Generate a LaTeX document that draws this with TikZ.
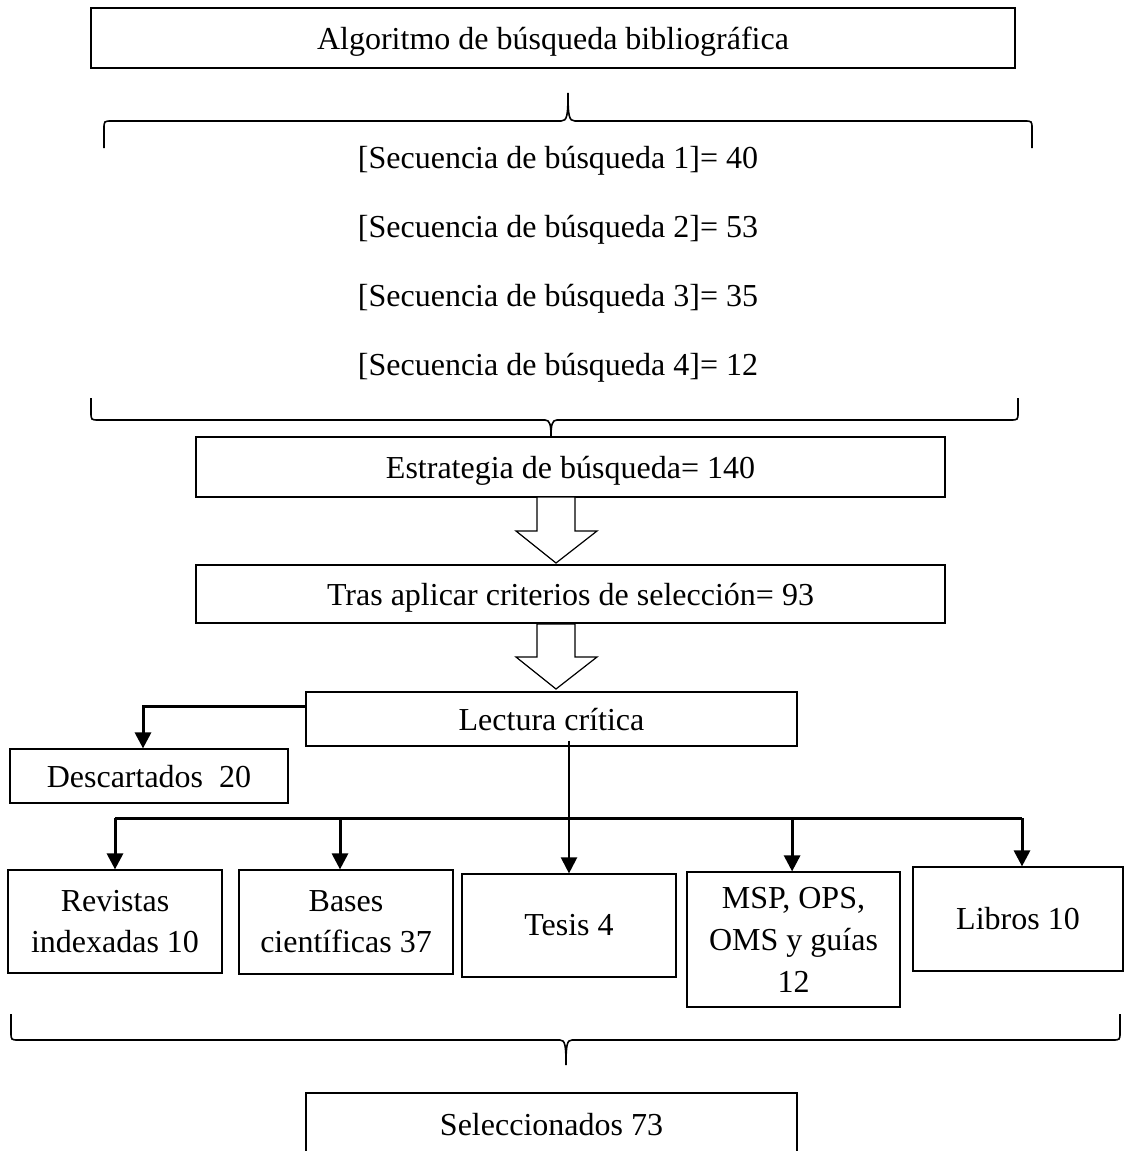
\documentclass[tikz,border=0pt]{standalone}
\usepackage{fontspec}
\setmainfont{Liberation Serif}
\usetikzlibrary{arrows.meta,calc}
\begin{document}
\begin{tikzpicture}[x=0.5pt,y=-0.5pt,
  box/.style={draw, line width=0.6pt, inner sep=0pt, align=center, font=\fontsize{16}{20.5}\selectfont},
  sl/.style={text height=13pt, text depth=2pt},
  txt/.style={inner sep=0pt, font=\fontsize{16}{20}\selectfont},
  arr/.style={line width=1.5pt, -{Triangle[width=8pt,length=8pt]}},
  thinarr/.style={line width=1.1pt, -{Triangle[width=8pt,length=8pt]}},
  brc/.style={line width=0.8pt},
  hollow/.style={draw, line width=0.6pt, fill=white}]
\useasboundingbox (0,0) rectangle (1124,1151);
% top box
\node[box, sl, minimum width=462pt, minimum height=30pt] (alg) at (553,38) {Algoritmo de búsqueda bibliográfica};
% top brace
\draw[brc] (104,148) -- (104,129) .. controls (104,121) .. (112,121) -- (561,121) .. controls (567,121) and (568,116) .. (568,93) .. controls (568,116) and (569,121) .. (575,121) -- (1024,121) .. controls (1032,121) .. (1032,129) -- (1032,148);
% sequences
\node[txt] (s1) at (558,161) {[Secuencia de búsqueda 1]= 40};
\node[txt] (s2) at (558,230) {[Secuencia de búsqueda 2]= 53};
\node[txt] (s3) at (558,299) {[Secuencia de búsqueda 3]= 35};
\node[txt] (s4) at (558,368) {[Secuencia de búsqueda 4]= 12};
% bottom brace
\draw[brc] (91,398) -- (91,412) .. controls (91,420) .. (99,420) -- (545,420) .. controls (550,420) and (551,425) .. (551,437) .. controls (551,425) and (552,420) .. (557,420) -- (1010,420) .. controls (1018,420) .. (1018,412) -- (1018,398);
% strategy
\node[box, sl, minimum width=374.5pt, minimum height=30pt] (est) at (570.5,467) {Estrategia de búsqueda= 140};
\draw[hollow] (537,497) -- (575,497) -- (575,531) -- (597,531) -- (556,563) -- (516,531) -- (537,531) -- cycle;
\node[box, sl, minimum width=374.5pt, minimum height=29pt] (tras) at (570.5,594) {Tras aplicar criterios de selección= 93};
\draw[hollow] (537,624) -- (575,624) -- (575,657) -- (597,657) -- (556,689) -- (516,657) -- (537,657) -- cycle;
% lectura
\node[box, sl, minimum width=245.5pt, minimum height=27pt] (lect) at (551.5,719) {Lectura crítica};
\node[box, sl, minimum width=139pt, minimum height=27pt] (desc) at (149,776) {Descartados\ \ 20};
\draw[arr] ([yshift=6.5pt]lect.west) -| ([xshift=-3pt]desc.north);
% categories
\node[box, minimum width=107pt, minimum height=51.5pt] (rev) at (115,921.5) {Revistas\\indexadas 10};
\node[box, minimum width=107pt, minimum height=52pt] (bas) at (346,922) {Bases\\científicas 37};
\node[box, minimum width=107pt, minimum height=51.5pt] (tes) at (569,925.5) {Tesis 4};
\node[box, minimum width=106.5pt, minimum height=67.5pt, font=\fontsize{16}{21}\selectfont] (msp) at (793.5,939.5) {MSP, OPS,\\OMS y guías\\12};
\node[box, minimum width=105pt, minimum height=52pt] (lib) at (1018,919) {Libros 10};
% bus
\coordinate (bl) at (115,818);
\coordinate (br) at (1022,818);
\draw[line width=1.5pt] (bl) -- (br);
\draw[arr] (bl) -- (rev.north);
\draw[arr] ([xshift=-3pt]bas.north |- bl) -- ([xshift=-3pt]bas.north);
\draw[arr] ([xshift=-0.7pt]msp.north |- bl) -- ([xshift=-0.7pt]msp.north);
\draw[arr] (br) -- (br |- lib.north);
\draw[thinarr] ([yshift=3pt]lect.south -| tes.north) -- (tes.north);
% final brace
\draw[brc] (11,1014) -- (11,1032) .. controls (11,1040) .. (19,1040) -- (560,1040) .. controls (565,1040) and (566,1045) .. (566,1065) .. controls (566,1045) and (567,1040) .. (572,1040) -- (1112,1040) .. controls (1120,1040) .. (1120,1032) -- (1120,1014);
\node[box, minimum width=245.5pt, minimum height=30pt] (sel) at (551.5,1123) {};
\node[txt] (selt) at (551.5,1125) {Seleccionados 73};
\end{tikzpicture}
\end{document}
